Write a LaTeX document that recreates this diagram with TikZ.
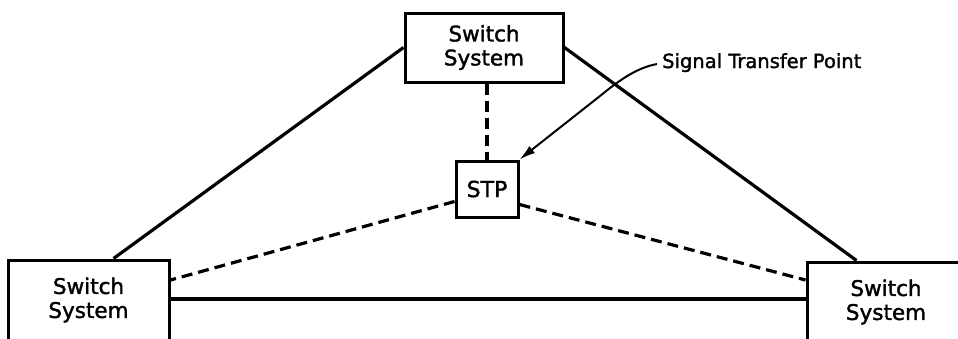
\documentclass[tikz,border=0pt]{standalone}
\usepackage{fontspec}
\setmainfont{DejaVu Sans}[FakeBold=1.6]
\usetikzlibrary{arrows.meta,calc}

\tikzset{
  sysbox/.style={draw, line width=3pt, align=center, inner sep=0pt,
    font=\fontsize{21.5}{24}\selectfont},
  link/.style={line width=3.2pt},
  siglink/.style={line width=3.2pt, dash pattern=on 11pt off 6pt},
  pointer/.style={line width=2pt, -{Latex[length=16pt,width=9pt]}},
}

\begin{document}
\begin{tikzpicture}[x=1pt,y=-1pt]
  \useasboundingbox (0,0) rectangle (958,338);
  \clip (0,0) rectangle (958,338);

  % switching offices and the signal transfer point
  \node[sysbox, minimum width=158pt, minimum height=69pt] (top) at (484,47.5) {Switch\\System};
  \node[sysbox, minimum width=161pt, minimum height=80pt] (left) at (88.5,300) {Switch\\System};
  \node[sysbox, minimum width=158pt, minimum height=80pt] (right) at (886,302) {Switch\\System};
  \node[sysbox, minimum width=62pt, minimum height=56pt,
        font=\fontsize{22}{24}\selectfont] (stp) at (487,189) {STP};

  % voice trunks
  \draw[link] (top.west) -- ([xshift=107pt]left.north west);
  \draw[link] (top.east) -- ([xshift=51pt]right.north west);
  \coordinate (hl) at ($(left.east)+(0,-1)$);
  \draw[link] (hl) -- (hl -| right.west);

  % signalling links
  \draw[siglink] (top.south -| stp.north) -- (stp.north);
  \draw[siglink] ($(stp.south west)+(0,-17)$) -- ($(left.east)+(0,-20)$);
  \draw[siglink] ($(stp.south east)+(0,-14)$) -- ($(right.west)+(0,-22)$);

  % callout
  \node[anchor=base west, inner sep=0pt, font=\fontsize{19.5}{22}\selectfont]
    (lbl) at (662,68) {Signal Transfer Point};
  \coordinate (lstart) at ($(lbl.base west)+(-5,-4)$);
  \draw[pointer] (lstart) .. controls (635,68) and (616,83) .. (600,96) -- (stp.north east);
\end{tikzpicture}
\end{document}
